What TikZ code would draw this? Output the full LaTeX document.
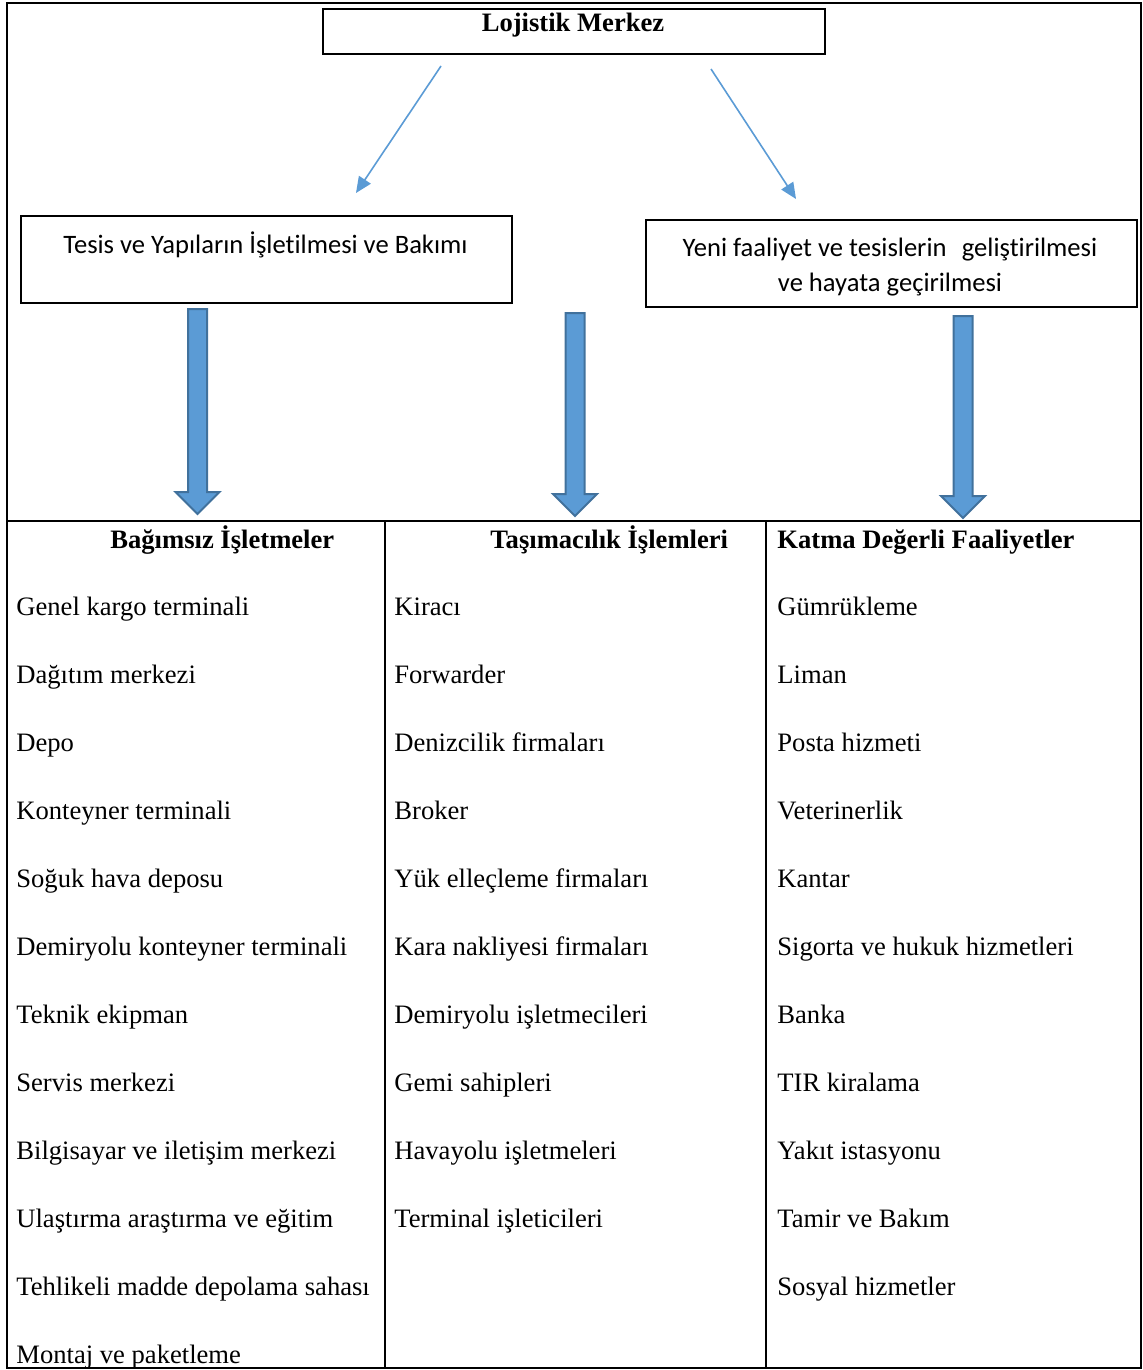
\documentclass[tikz,border=0pt]{standalone}
\usepackage{fontspec}
\setmainfont{Liberation Serif}
\newfontfamily\calibri[Ligatures=NoCommon]{Carlito}
\usetikzlibrary{arrows.meta,calc}
\definecolor{arrowblue}{HTML}{5B9BD5}
\definecolor{arrowedge}{HTML}{41719C}
\newcommand\bodysize{\fontsize{13.3}{16}\selectfont}
% downward block arrow: centre x, top y, tip y
\newcommand\downblock[3]{%
  \draw[blockarrow] (#1-9.5,#2) -- (#1+9.5,#2) -- (#1+9.5,#3-22) -- (#1+22,#3-22)
    -- (#1,#3) -- (#1-22,#3-22) -- (#1-9.5,#3-22) -- cycle;}
\begin{document}
\begin{tikzpicture}[x=0.5pt,y=-0.5pt,
  frame/.style={line width=1pt},
  box/.style={draw, line width=1.2pt, inner sep=0, anchor=north west,
              minimum width=245.5pt, minimum height=43.5pt},
  thinarrow/.style={draw=arrowblue, line width=0.8pt,
                    -{Triangle[length=8pt,width=7pt,fill=arrowblue]}},
  blockarrow/.style={fill=arrowblue, draw=arrowedge, line width=1pt, line join=miter},
  txt/.style={inner sep=0, text height=0.7em, text depth=0.2em, font=\bodysize},
  cell/.style={txt, anchor=west},
  head/.style={cell, font=\bodysize\bfseries},
  sans/.style={txt, font=\bodysize\calibri}
]
\useasboundingbox (0,0) rectangle (1143,1370);

% upper frame and table
\draw[frame] (6.7,2.7) rectangle (1141,521);
\draw[frame] (6.7,521) rectangle (1141,1368);
\draw[frame] (385,521) -- (385,1368);
\draw[frame] (766,521) -- (766,1368);

% top box
\node[box, minimum width=251pt, minimum height=22.5pt] (lm) at (322,8) {};
\node[txt, font=\bodysize\bfseries] (lmt) at (573,27) {Lojistik Merkez};

% second level boxes
\node[box] (tesis) at (20,215) {};
\node[sans] (tesist) at (265.5,248) {Tesis ve Yapıların İşletilmesi ve Bakımı};
\node[box] (yeni) at (645,219) {};
\node[sans] (yeni1) at (890,251) {Yeni faaliyet ve tesislerin\hspace{0.35em} geliştirilmesi};
\node[sans] (yeni2) at (890,286) {ve hayata geçirilmesi};

% thin arrows
\coordinate (l1) at (441,66);
\coordinate (l2) at (356,193);
\coordinate (r1) at (711,69);
\coordinate (r2) at (796,199);
\draw[thinarrow] (l1) -- (l2);
\draw[thinarrow] (r1) -- (r2);

% block arrows
\downblock{197.5}{309}{514}
\downblock{575}{313}{516}
\downblock{963}{316}{518}

% column headings
\node[head] (h1) at (110,543) {Bağımsız İşletmeler};
\node[head] (h2) at (490,543) {Taşımacılık İşlemleri};
\node[head] (h3) at (777,543) {Katma Değerli Faaliyetler};

% column entries
\foreach \t [count=\i] in {Genel kargo terminali, Dağıtım merkezi, Depo,
    Konteyner terminali, Soğuk hava deposu, Demiryolu konteyner terminali,
    Teknik ekipman, Servis merkezi, Bilgisayar ve iletişim merkezi,
    Ulaştırma araştırma ve eğitim, Tehlikeli madde depolama sahası,
    Montaj ve paketleme}
  \node[cell] (a\i) at (16,542+68*\i) {\t};
\foreach \t [count=\i] in {Kiracı, Forwarder, Denizcilik firmaları, Broker,
    Yük elleçleme firmaları, Kara nakliyesi firmaları, Demiryolu işletmecileri,
    Gemi sahipleri, Havayolu işletmeleri, Terminal işleticileri}
  \node[cell] (b\i) at (394,542+68*\i) {\t};
\foreach \t [count=\i] in {Gümrükleme, Liman, Posta hizmeti, Veterinerlik, Kantar,
    Sigorta ve hukuk hizmetleri, Banka, TIR kiralama, Yakıt istasyonu,
    Tamir ve Bakım, Sosyal hizmetler}
  \node[cell] (c\i) at (777,542+68*\i) {\t};
\end{tikzpicture}
\end{document}
